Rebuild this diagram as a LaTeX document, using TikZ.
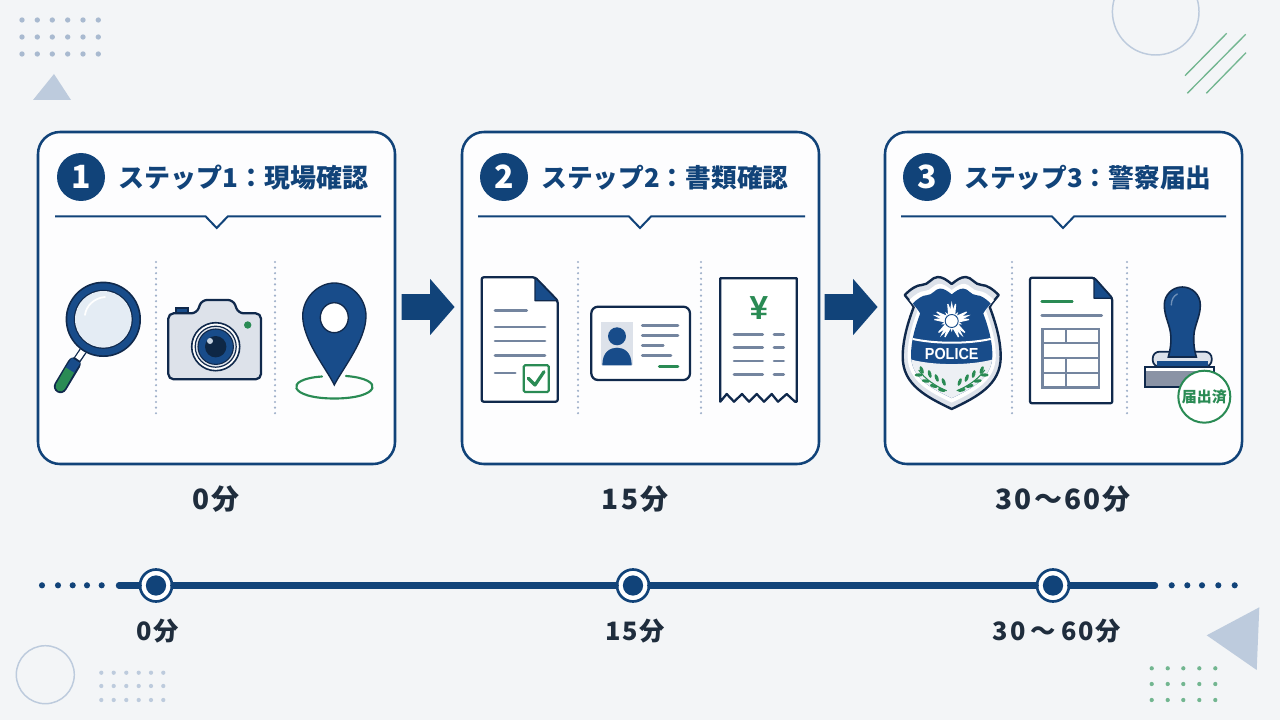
\documentclass[tikz,border=0pt]{standalone}
\usepackage{fontspec}
\usetikzlibrary{shapes.arrows}
\setmainfont{Noto Sans CJK JP}
\newfontfamily\latinfont{Liberation Sans}
\definecolor{bgc}{HTML}{F3F5F7}
\definecolor{navy}{HTML}{114379}
\definecolor{iconblue}{HTML}{184C8A}
\definecolor{dark}{HTML}{10294C}
\definecolor{inkc}{HTML}{1F2D3D}
\definecolor{greyline}{HTML}{74859F}
\definecolor{sepc}{HTML}{9FB0CA}
\definecolor{greenc}{HTML}{2A8B54}
\definecolor{silver}{HTML}{DDE2EA}
\definecolor{decoblue}{HTML}{BDCBDD}
\definecolor{decodot}{HTML}{A9BAD0}
\definecolor{decogreen}{HTML}{72B690}
\definecolor{glassc}{HTML}{E4ECF4}
\definecolor{lensd}{HTML}{0E2745}
\definecolor{lenshl}{HTML}{C5D2E0}
\definecolor{palec}{HTML}{EDF0F4}
\definecolor{stampg}{HTML}{8A93A5}
\definecolor{knobhl}{HTML}{6F90B8}
\definecolor{cardc}{HTML}{FDFDFE}
\tikzset{
  card/.style={draw=navy,line width=1.9pt,fill=cardc,rounded corners=16.5pt,minimum width=267.75pt,minimum height=249pt,inner sep=0pt,outer sep=0pt},
  badge/.style={circle,fill=navy,text=white,minimum size=36pt,inner sep=0pt,font=\fontsize{24}{24}\selectfont\bfseries},
  steptitle/.style={anchor=west,inner sep=0pt,text=navy,font=\fontsize{19.3}{20}\selectfont\bfseries},
  divline/.style={draw=navy,line width=1.5pt},
  sepline/.style={draw=sepc,line width=1.8pt,line cap=round,dash pattern=on 0pt off 4.2pt},
  blockarrow/.style={single arrow,fill=navy,inner xsep=0pt,inner ysep=9.375pt,text width=0pt,text height=0pt,text depth=0pt,minimum height=39.75pt,single arrow head extend=11.6pt,single arrow tip angle=98},
  biglabel/.style={text=inkc,inner sep=0pt,font=\fontsize{21}{22}\selectfont\bfseries\addfontfeature{LetterSpace=7}},
  smalllabel/.style={text=inkc,inner sep=0pt,font=\fontsize{19}{20}\selectfont\bfseries\addfontfeature{LetterSpace=7}},
  tick/.style={circle,draw=navy,line width=2pt,fill=white,minimum size=24pt,inner sep=0pt,path picture={\fill[navy] (path picture bounding box.center) circle (7.6pt);}},
  tline/.style={draw=navy,line width=4.8pt,line cap=round},
  outline/.style={draw=dark,line width=1.7pt,line join=round},
  gl/.style={draw=greyline,line width=2pt,line cap=round},
  gnl/.style={draw=greenc,line width=2pt,line cap=round},
  deco/.style={draw=decoblue,line width=1.1pt},
}
\newcommand{\dotgrid}[4]{\foreach \xx in {#1} \foreach \yy in {#2} \fill[#4] (\xx,\yy) circle (#3);}
\newcommand{\divider}[3]{\draw[divline,line join=miter] (#1,216.5) -- ({#3-11},216.5) -- (#3,228) -- ({#3+11},216.5) -- (#2,216.5);}
\newcommand{\shieldpath}{(0,-61) .. controls (5,-65) and (9,-68) .. (14,-68) .. controls (20,-68) and (23,-60) .. (30,-60) .. controls (35,-60) and (41,-56) .. (47,-50) .. controls (44,-46) and (40,-42) .. (38,-38) .. controls (44,-22) and (49,-5) .. (49,12) .. controls (49,40) and (25,52) .. (0,64) .. controls (-25,52) and (-49,40) .. (-49,12) .. controls (-49,-5) and (-44,-22) .. (-38,-38) .. controls (-40,-42) and (-44,-46) .. (-47,-50) .. controls (-41,-56) and (-35,-60) .. (-30,-60) .. controls (-23,-60) and (-20,-68) .. (-14,-68) .. controls (-9,-68) and (-5,-65) .. (0,-61) -- cycle}
\begin{document}
\begin{tikzpicture}[x=0.75pt,y=-0.75pt]
\useasboundingbox (0,0) rectangle (1280,720);
\fill[bgc] (0,0) rectangle (1280,720);
% decoration
\dotgrid{22,37.3,52.3,67.7,83,98.3}{20,37,54}{2pt}{decodot}
\fill[decoblue] (54,74) -- (33,100) -- (71,100) -- cycle;
\draw[deco] (1155.7,11.7) circle [radius=43.3];
\draw[decogreen,line width=1pt] (1185,75.7) -- (1226.7,33.3) (1187.3,93.3) -- (1245.7,34.3) (1206.3,93.3) -- (1246,52.7);
\draw[deco] (45.3,674.7) circle [radius=29];
\dotgrid{101.3,113.7,126.3,138.7,151,163.3}{672.7,686,700}{1.6pt}{decoblue}
\fill[decoblue] (1259.3,607.3) -- (1206.7,635.3) -- (1256.7,670) -- cycle;
\dotgrid{1151.7,1167.7,1183.3,1199.3,1215.3}{668.3,684,700}{1.6pt}{decogreen}
% cards
\node[card] (c1) at (216.5,298) {};
\node[card] (c2) at (640.5,298) {};
\node[card] (c3) at (1063.5,298) {};
\node[badge] (b1) at (81,177) {1};
\node[badge] (b2) at (504,177) {2};
\node[badge] (b3) at (927,177) {3};
\node[steptitle,font=\fontsize{19.5}{20}\selectfont\bfseries] (t1) at (118,178) {ステップ1：現場確認};
\node[steptitle] (t2) at (541,178) {ステップ2：書類確認};
\node[steptitle] (t3) at (964,178) {ステップ3：警察届出};
\divider{55}{381}{216.7}
\divider{478}{805}{640}
\divider{901}{1226}{1063}
\draw[sepline] (156,262) -- (156,416);
\draw[sepline] (275,262) -- (275,416);
\draw[sepline] (578,262) -- (578,416);
\draw[sepline] (701,262) -- (701,416);
\draw[sepline] (1012,262) -- (1012,416);
\draw[sepline] (1127,262) -- (1127,416);
% block arrows
\node[blockarrow] (a1) at (422.5,307) {};
\node[blockarrow] (a2) at (845.5,307) {};
% magnifier
\draw[dark,line width=10pt,line cap=round] (74,364) -- (60.5,386.5);
\draw[greenc,line width=7.4pt,line cap=round] (70,370) -- (60.5,386.5);
\draw[iconblue,line width=7.4pt] (76,360.5) -- (70,370);
\draw[dark,line width=6pt] (83,351) -- (77,360);
\draw[white,line width=4pt] (83,351) -- (77.5,359);
\fill[dark] (103.3,319.3) circle [radius=37.7];
\fill[iconblue] (103.3,319.3) circle [radius=36];
\fill[dark] (103.3,319.3) circle [radius=29.5];
\fill[glassc] (103.3,319.3) circle [radius=28.3];
\draw[white,line width=1.3pt,line cap=round] (85,315) .. controls (86,306) and (94,298) .. (105,297);
% camera
\fill[iconblue,draw=dark,line width=1.2pt] (176,313) -- (176,308) -- (188,308) -- (188,313) -- cycle;
\draw[outline,fill=silver,rounded corners=4pt] (168.3,313.3) -- (196.7,313.3) -- (201.7,300) -- (233.3,300) -- (238.3,313.3) -- (261,313.3) -- (261,379.3) -- (168.3,379.3) -- cycle;
\draw[dark,line width=1.2pt,fill=white] (215.7,346.7) circle [radius=24];
\draw[dark,line width=.9pt,fill=silver] (215.7,346.7) circle [radius=20.5];
\draw[dark,line width=.8pt,fill=iconblue] (215.7,346.7) circle [radius=17.7];
\fill[lensd] (215.7,346.7) circle [radius=10.7];
\fill[lenshl] (210,341) circle [radius=3];
\fill[greenc] (247.7,325) circle [radius=3.7];
% pin
\draw[greenc,line width=1.6pt,line cap=round] (322,376.5) .. controls (283,379) and (289,398.5) .. (334.3,398.5) .. controls (380,398.5) and (386,379) .. (346,376);
\draw[dark,line width=1pt,fill=iconblue] (334.3,385) .. controls (326,368) and (302.7,340) .. (302.7,316) .. controls (302.7,298) and (318,283) .. (334.3,283) .. controls (351,283) and (366,298) .. (366,316) .. controls (366,340) and (343,368) .. (334.3,385) -- cycle;
\draw[dark,line width=1pt,fill=white] (334.3,317.7) ellipse [x radius=14,y radius=15];
% document 1
\draw[outline,fill=white,rounded corners=1.5pt] (481.7,277.3) -- (535,277.3) -- (557.7,300.7) -- (557.7,401.7) -- (481.7,401.7) -- cycle;
\draw[dark,line width=1pt,fill=iconblue,line join=round] (535,277.3) -- (557.7,300.7) -- (535,300.7) -- cycle;
\draw[gl] (495,310.7) -- (526.7,310.7) (495,327) -- (545,327) (495,341) -- (545,341) (495,355.7) -- (545,355.7) (495,373) -- (515.3,373);
\draw[greenc,line width=1.6pt,fill=white,rounded corners=1pt] (523.7,365.3) rectangle (548.7,392);
\draw[greenc,line width=2.4pt,line cap=round,line join=round] (528.3,378.3) -- (535,385) -- (544,371.7);
% id card
\draw[outline,fill=white,rounded corners=5pt] (591.3,306.7) rectangle (690,380);
\fill[silver] (601,321.7) rectangle (633,365.3);
\fill[iconblue] (617,336.3) circle [radius=9];
\fill[iconblue] (602.3,365.3) .. controls (602.3,352) and (610,347.7) .. (617,347.7) .. controls (624,347.7) and (631.7,352) .. (631.7,365.3) -- cycle;
\draw[gl] (642.3,325.3) -- (678,325.3) (642.3,335.3) -- (678,335.3) (642.3,345.3) -- (663.3,345.3) (642.3,355.7) -- (671,355.7);
\draw[gnl] (659.3,366.7) -- (678,366.7);
% receipt
\draw[outline,fill=white] (720.3,278.3) -- (796.7,278.3) -- (796.7,401.7) -- (795,401.7) -- (786.7,394) -- (778,401.7) -- (771.7,394) -- (764,401.7) -- (756.7,394) -- (749,401.7) -- (742,394) -- (734,401.7) -- (726.7,394) -- (720.3,401.7) -- cycle;
\node[inner sep=0pt,text=greenc,font=\latinfont\fontsize{25}{25}\selectfont\bfseries] (yen) at (759,308) {¥};
\draw[gl] (734,334.3) -- (762.7,334.3) (734,347.7) -- (762.7,347.7) (734,361) -- (762.7,361) (734,374.3) -- (762.7,374.3);
\draw[gl] (774,334.3) -- (783.7,334.3) (774,347.7) -- (783.7,347.7) (774,361) -- (783.7,361) (774,374.3) -- (783.7,374.3);
% police badge
\begin{scope}[shift={(951.7,345)}]
  \draw[dark,line width=1.8pt,line join=round,fill=silver] \shieldpath;
  \begin{scope}[scale=.9]
    \fill[white] \shieldpath;
  \end{scope}
  \begin{scope}[scale=.83]
    \clip \shieldpath;
    \fill[iconblue] (-60,-80) rectangle (60,80);
    \fill[palec] (-60,14) .. controls (-30,26) and (30,26) .. (60,14) -- (60,80) -- (-60,80) -- cycle;
    \draw[white,line width=1.5pt] (-60,-11) .. controls (-30,0) and (30,0) .. (60,-11);
  \end{scope}
  \begin{scope}[shift={(0,-24)}]
    \foreach \a in {0,72,144,216,288} {
      \fill[white,rotate=\a] (-2.6,-6) -- (0,-20) -- (2.6,-6) -- cycle;
      \fill[white,rotate=\a-13] (-2.2,-6) -- (-.6,-17.5) -- (.6,-17.5) -- (2.2,-6) -- cycle;
      \fill[white,rotate=\a+13] (-2.2,-6) -- (-.6,-17.5) -- (.6,-17.5) -- (2.2,-6) -- cycle;
      \fill[white,rotate=\a+36] (-1.6,-6) -- (0,-11) -- (1.6,-6) -- cycle;
    }
    \draw[iconblue,line width=.7pt,fill=white] (0,0) circle [radius=6.5];
  \end{scope}
  \foreach \s in {1,-1} {
    \begin{scope}[xscale=\s]
      \draw[greenc,line width=.8pt] (5,45.7) .. controls (15,42) and (27,34) .. (33,25);
      \foreach \x/\y/\r in {8/37/70,15/33/70,22/29/75,30/25/70,10/45/15,18/41/15,26/36/10,33/30/0} {
        \fill[greenc,rotate around={\r:(\x,\y)}] (\x,\y) ellipse [x radius=4,y radius=1.7];
      }
    \end{scope}
  }
\end{scope}
\node[inner sep=0pt,text=white,font=\latinfont\fontsize{12}{12}\selectfont\bfseries] (pol) at (951.7,354) {\scalebox{.9}[1]{POLICE}};
% form
\draw[outline,fill=white,rounded corners=1.5pt] (1030,277.7) -- (1094,277.7) -- (1112.3,298.3) -- (1112.3,403.3) -- (1030,403.3) -- cycle;
\draw[dark,line width=1pt,fill=iconblue,line join=round] (1094,277.7) -- (1112.3,298.3) -- (1094,298.3) -- cycle;
\draw[gnl] (1041.7,301.3) -- (1072.3,301.3);
\draw[gl] (1041.7,315.7) -- (1101.7,315.7);
\draw[greyline,line width=1.8pt] (1042.3,329) rectangle (1099,387.3);
\draw[greyline,line width=1.6pt] (1042.3,343.3) -- (1099,343.3) (1042.3,358.3) -- (1099,358.3) (1042.3,373.3) -- (1099,373.3) (1065.7,329) -- (1065.7,343.3) (1065.7,358.3) -- (1065.7,387.3);
% stamp
\draw[dark,line width=1.3pt,fill=silver,rounded corners=5pt] (1152.7,366.7) -- (1152.7,351.7) -- (1211.7,351.7) -- (1211.7,366.7) -- cycle;
\fill[iconblue] (1157,361) rectangle (1208,366.7);
\draw[dark,line width=1.3pt,fill=stampg] (1145,366.7) rectangle (1214,386.7);
\fill[white] (1146,367.5) rectangle (1213,370.5);
\begin{scope}[shift={(1182.3,0)}]
  \draw[dark,line width=1.2pt,fill=iconblue] (-14,357) .. controls (-12,350) and (-11,343) .. (-11.5,336) .. controls (-12,325) and (-18,317) .. (-18,305) .. controls (-18,295) and (-10,287) .. (0,287) .. controls (10,287) and (18,295) .. (18,305) .. controls (18,317) and (12,325) .. (11.5,336) .. controls (11,343) and (12,350) .. (14,357) -- cycle;
  \draw[knobhl,line width=1pt,line cap=round] (-11,305) .. controls (-11,300) and (-9,296) .. (-5,294);
\end{scope}
\node[circle,draw=greenc,line width=1.5pt,fill=white,minimum size=39pt,inner sep=0pt,text=greenc,font=\fontsize{11.2}{12}\selectfont\bfseries] (st) at (1204.3,396.7) {届出済};
% labels
\node[biglabel] (l1) at (216,499) {0分};
\node[biglabel] (l2) at (635,499) {15分};
\node[biglabel] (l3) at (1063,499) {30\hspace{1.5pt}～\hspace{1.5pt}60分};
% timeline
\dotgrid{42,58,72.7,87,101.7}{585.3}{2.3pt}{navy}
\dotgrid{1171.7,1187.3,1202,1218.3,1234.7}{585.3}{2.3pt}{navy}
\coordinate (tlL) at (119,585.5);
\coordinate (tlR) at (1155,585.5);
\node[tick] (n0) at (156,585.5) {};
\node[tick] (n1) at (633,585.5) {};
\node[tick] (n2) at (1053,585.5) {};
\draw[tline] (tlL) -- (n0);
\draw[tline] (n0) -- (n1);
\draw[tline] (n1) -- (n2);
\draw[tline] (n2) -- (tlR);
\node[smalllabel] (m0) at (158,631) {0分};
\node[smalllabel] (m1) at (635,631) {15分};
\node[smalllabel] (m2) at (1057,631) {30\hspace{4pt}～\hspace{4pt}60分};
\end{tikzpicture}
\end{document}
